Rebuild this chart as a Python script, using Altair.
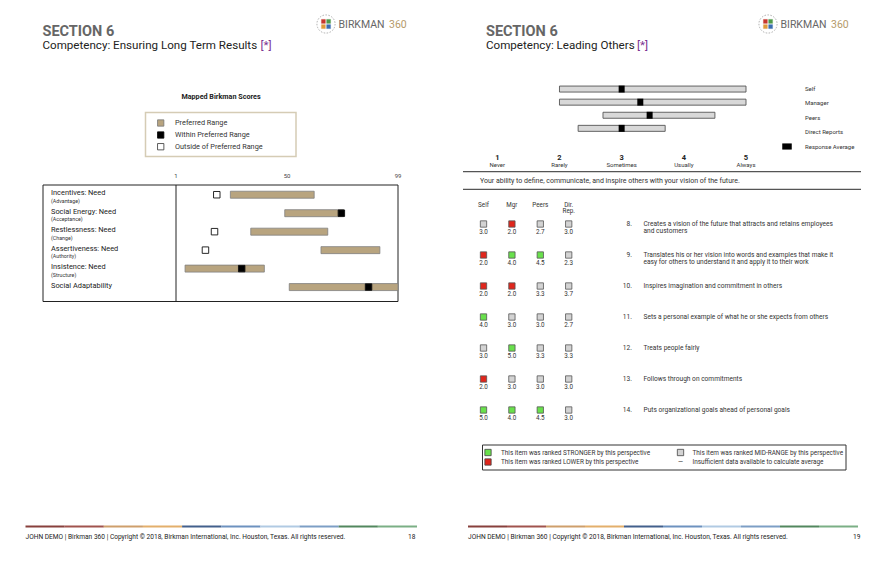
import altair as alt
import pandas as pd

FONT = "Roboto"

# ---------------- data: left page (Mapped Birkman Scores) ----------------
birk_cats = ["Incentives: Need", "Social Energy: Need", "Restlessness: Need",
             "Assertiveness: Need", "Insistence: Need", "Social Adaptability"]
birk_sub = ["(Advantage)", "(Acceptance)", "(Change)", "(Authority)", "(Structure)", ""]
birk_lo = [25, 49, 34, 65, 5, 51]
birk_hi = [62, 75, 68, 91, 40, 99]
birk_score = [19, 74, 18, 14, 30, 86]
birk_ticks = [1, 50, 99]
birk_legend = ["Preferred Range", "Within Preferred Range", "Outside of Preferred Range"]

# ---------------- data: right page (Leading Others) ----------------
persp = ["Self", "Manager", "Peers", "Direct Reports"]
persp_lo = [2.0, 2.0, 2.7, 2.3]
persp_hi = [5.0, 5.0, 4.5, 3.7]
persp_avg = [3.0, 3.3, 3.45, 3.0]
scale_nums = [1, 2, 3, 4, 5]
scale_words = ["Never", "Rarely", "Sometimes", "Usually", "Always"]

cols = ["Self", "Mgr", "Peers", "Dir. Rep."]
col_head1 = ["Self", "Mgr", "Peers", "Dir."]
col_head2 = ["", "", "", "Rep."]
items = [8, 9, 10, 11, 12, 13, 14]
item_line1 = ["Creates a vision of the future that attracts and retains employees",
              "Translates his or her vision into words and examples that make it",
              "Inspires imagination and commitment in others",
              "Sets a personal example of what he or she expects from others",
              "Treats people fairly",
              "Follows through on commitments",
              "Puts organizational goals ahead of personal goals"]
item_line2 = ["and customers",
              "easy for others to understand it and apply it to their work",
              "", "", "", "", ""]
self_vals = [3.0, 2.0, 2.0, 4.0, 3.0, 2.0, 5.0]
mgr_vals = [2.0, 4.0, 2.0, 3.0, 5.0, 3.0, 4.0]
peer_vals = [2.7, 4.5, 3.3, 3.0, 3.3, 3.0, 4.5]
dir_vals = [3.0, 2.3, 3.7, 2.7, 3.3, 3.0, 3.0]
self_rank = ["M", "L", "L", "S", "M", "L", "S"]
mgr_rank = ["L", "S", "L", "M", "S", "M", "S"]
peer_rank = ["M", "S", "M", "M", "M", "M", "S"]
dir_rank = ["M", "M", "M", "M", "M", "M", "M"]

footer = "JOHN DEMO | Birkman 360 | Copyright \u00a9 2018, Birkman International, Inc. Houston, Texas. All rights reserved."
strip_colors = ["#7b2b27", "#96403a", "#c9955c", "#e0a65c", "#2f4f80", "#5d86b8",
                "#a9c4e0", "#6f93bf", "#3f7a4c", "#6da678"]

# ---------------- styles ----------------
TAN = "#b8a47f"
GREEN = "#69e04c"
RED = "#e0261c"
GRAY = "#d3d3d3"

def px(v):
    return v - 8

def one(s):
    return pd.DataFrame({"t": [s]})

def txt(s, x, y, size=7.0, color="#222222", weight="normal", align="left",
        baseline="middle", **kw):
    return alt.Chart(one(s)).mark_text(
        fontSize=size, color=color, fontWeight=weight, align=align,
        baseline=baseline, font=FONT, **kw
    ).encode(text="t:N", x=alt.value(px(x)), y=alt.value(px(y)))

def box(x1, x2, y1, y2, fill="transparent", stroke="#000000", sw=1.0, **kw):
    return alt.Chart(one("")).mark_rect(fill=fill, stroke=stroke, strokeWidth=sw, **kw).encode(
        x=alt.value(px(x1)), x2=alt.value(px(x2)), y=alt.value(px(y1)), y2=alt.value(px(y2)))

def hline(x1, x2, y, color="#444444", sw=1.0):
    return alt.Chart(one("")).mark_rule(color=color, strokeWidth=sw).encode(
        x=alt.value(px(x1)), x2=alt.value(px(x2)), y=alt.value(px(y)))

def vline(x, y1, y2, color="#000000", sw=1.0):
    return alt.Chart(one("")).mark_rule(color=color, strokeWidth=sw).encode(
        x=alt.value(px(x)), y=alt.value(px(y1)), y2=alt.value(px(y2)))

def sq(x, y, fill, stroke="#444444", size=40, sw=0.8):
    return alt.Chart(one("")).mark_square(fill=fill, stroke=stroke, strokeWidth=sw,
                                          size=size, opacity=1).encode(
        x=alt.value(px(x)), y=alt.value(px(y)))

def header(x0, title, star_x, logo_x):
    out = [
        txt("SECTION 6", x0, 35.5, size=14.5, color="#666666", weight="bold", baseline="alphabetic"),
        txt(title, x0, 49, size=11.6, color="#222222", baseline="alphabetic"),
        txt("[*]", star_x, 49, size=11.6, color="#7b3391", baseline="alphabetic"),
        # logo
        alt.Chart(one("")).mark_point(shape="circle", size=330, stroke="#8a8a8a",
                                      strokeWidth=1, strokeDash=[1.5, 1.5], filled=False).encode(
            x=alt.value(px(logo_x)), y=alt.value(px(24))),
        sq(logo_x - 2.6, 21.4, "#c8372d", stroke="#c8372d", size=16, sw=0.3),
        sq(logo_x + 2.6, 21.4, "#4f9a4a", stroke="#4f9a4a", size=16, sw=0.3),
        sq(logo_x - 2.6, 26.6, "#e09a3c", stroke="#e09a3c", size=16, sw=0.3),
        sq(logo_x + 2.6, 26.6, "#3b6db0", stroke="#3b6db0", size=16, sw=0.3),
        txt("BIRKMAN", logo_x + 12.5, 25, size=10.5, color="#666666"),
        txt("360", logo_x + 63, 25, size=10.5, color="#b59a6a"),
    ]
    return out

def footer_layers(x1, x2, page, page_x):
    sdf = pd.DataFrame({"i": list(range(len(strip_colors))), "c": strip_colors})
    sdf["j"] = sdf["i"] + 1
    sx = alt.Scale(domain=[0, len(strip_colors)], range=[px(x1), px(x2)], nice=False, zero=False)
    strip = alt.Chart(sdf).mark_rect(opacity=0.9).encode(
        x=alt.X("i:Q", scale=sx, axis=None), x2="j:Q",
        y=alt.value(px(525.5)), y2=alt.value(px(527.5)),
        fill=alt.Fill("c:N", scale=None))
    return [strip,
            txt(footer, x1, 537, size=6.6, color="#222222"),
            txt(page, page_x, 537, size=6.6, color="#222222")]

layers = []

# ================= LEFT PAGE =================
layers += header(42.5, "Competency: Ensuring Long Term Results", 260.5, 326)
layers.append(txt("Mapped Birkman Scores", 221, 97, size=7.2, weight="bold", align="center"))
layers.append(box(145.5, 296, 112.5, 156.5, stroke="#d5ccb5", sw=1.5))
leg_y = [123, 135, 146.7]
layers.append(sq(160.7, leg_y[0], TAN, stroke="#777777"))
layers.append(sq(160.7, leg_y[1], "#000000", stroke="#000000"))
layers.append(sq(160.7, leg_y[2], "#ffffff", stroke="#333333"))
for lab, yy in zip(birk_legend, leg_y):
    layers.append(txt(lab, 175, yy, size=7.3, color="#333333"))

layers.append(box(43, 398, 185, 301.5, stroke="#222222", sw=1))
layers.append(vline(176, 185, 301.5, color="#222222"))

bdf = pd.DataFrame({"cat": birk_cats, "sub": birk_sub, "lo": birk_lo,
                    "hi": birk_hi, "score": birk_score})
bdf["status"] = ["Within" if lo <= s <= hi else "Outside"
                 for lo, hi, s in zip(birk_lo, birk_hi, birk_score)]
bx = alt.Scale(domain=[1, 99], range=[px(176), px(398)], nice=False, zero=False)
by = alt.Scale(domain=birk_cats, range=[px(185.5), px(296.3)], paddingInner=0, paddingOuter=0)
bbase = alt.Chart(bdf)
birk_bars = bbase.mark_bar(height=7, fill=TAN, stroke="#808080", strokeWidth=0.8).encode(
    x=alt.X("lo:Q", scale=bx, axis=None), x2="hi:Q",
    y=alt.Y("cat:N", scale=by, axis=None))
birk_marks = bbase.mark_square(size=42, stroke="#111111", strokeWidth=0.9, opacity=1).encode(
    x=alt.X("score:Q", scale=bx, axis=None),
    y=alt.Y("cat:N", scale=by, axis=None),
    fill=alt.Fill("status:N", scale=alt.Scale(domain=["Within", "Outside"],
                                               range=["#000000", "#ffffff"]), legend=None))
birk_lab = bbase.mark_text(align="left", fontSize=7.4, color="#222222", font=FONT, dy=-1.5).encode(
    x=alt.value(px(51)), y=alt.Y("cat:N", scale=by, axis=None), text="cat:N")
birk_sublab = bbase.mark_text(align="left", fontSize=5.3, color="#333333", font=FONT, dy=6).encode(
    x=alt.value(px(51)), y=alt.Y("cat:N", scale=by, axis=None), text="sub:N")
birk_tick = alt.Chart(pd.DataFrame({"v": birk_ticks})).mark_text(
    fontSize=6, color="#444444", font=FONT, y=px(176)).encode(
    x=alt.X("v:Q", scale=bx, axis=None), text="v:Q")
layers.append(alt.layer(birk_bars, birk_marks, birk_lab, birk_sublab, birk_tick))

layers += footer_layers(25.5, 417, "18", 408)

# ================= RIGHT PAGE =================
layers += header(486, "Competency: Leading Others", 637, 768)

pdf = pd.DataFrame({"p": persp, "lo": persp_lo, "hi": persp_hi, "avg": persp_avg})
rx = alt.Scale(domain=[1, 5], range=[px(497.3), px(746)], nice=False, zero=False)
ry = alt.Scale(domain=persp, range=[px(82.5), px(134.9)], paddingInner=0, paddingOuter=0)
pbase = alt.Chart(pdf)
p_bars = pbase.mark_bar(height=6, fill="#d8d8d8", stroke="#555555", strokeWidth=0.9).encode(
    x=alt.X("lo:Q", scale=rx, axis=None), x2="hi:Q", y=alt.Y("p:N", scale=ry, axis=None))
p_marks = pbase.mark_rect(height=7, width=6, fill="#000000").encode(
    x=alt.X("avg:Q", scale=rx, axis=None), y=alt.Y("p:N", scale=ry, axis=None))
sdf = pd.DataFrame({"n": scale_nums, "w": scale_words})
s_nums = alt.Chart(sdf).mark_text(fontSize=7.5, fontWeight="bold", color="#222222",
                                  font=FONT, y=px(157.5)).encode(
    x=alt.X("n:Q", scale=rx, axis=None), text="n:Q")
s_words = alt.Chart(sdf).mark_text(fontSize=6, color="#333333", font=FONT, y=px(164.5)).encode(
    x=alt.X("n:Q", scale=rx, axis=None), text="w:N")
layers.append(alt.layer(p_bars, p_marks, s_nums, s_words))

lab5 = persp + ["Response Average"]
ly = alt.Scale(domain=lab5, range=[px(81.8), px(153.8)], paddingInner=0, paddingOuter=0)
layers.append(alt.Chart(pd.DataFrame({"l": lab5})).mark_text(
    align="left", fontSize=6, color="#333333", font=FONT).encode(
    x=alt.value(px(805)), y=alt.Y("l:N", scale=ly, axis=None), text="l:N"))
layers.append(box(782.5, 791.5, 143.7, 149.3, fill="#000000", stroke="#000000", sw=0.5))

layers.append(hline(463, 861, 171.7, color="#555555", sw=1.2))
layers.append(txt("Your ability to define, communicate, and inspire others with your vision of the future.",
                  480, 180.5, size=7, color="#333333"))
layers.append(hline(463, 861, 189.3, color="#555555", sw=1.2))

# table
recs = []
for vals, ranks, c in [(self_vals, self_rank, cols[0]), (mgr_vals, mgr_rank, cols[1]),
                       (peer_vals, peer_rank, cols[2]), (dir_vals, dir_rank, cols[3])]:
    for it, v, r in zip(items, vals, ranks):
        recs.append({"item": it, "col": c, "val": v, "rank": r})
tdf = pd.DataFrame(recs)
tx = alt.Scale(type="point", domain=cols, range=[px(483.5), px(568.7)], padding=0)
ty = alt.Scale(type="point", domain=items, range=[px(224), px(410)], padding=0)
tbase = alt.Chart(tdf)
t_sq = tbase.mark_square(size=40, stroke="#555555", strokeWidth=0.8, opacity=1).encode(
    x=alt.X("col:N", scale=tx, axis=None), y=alt.Y("item:O", scale=ty, axis=None),
    fill=alt.Fill("rank:N", scale=alt.Scale(domain=["S", "L", "M"], range=[GREEN, RED, GRAY]),
                  legend=None))
t_val = tbase.mark_text(fontSize=6.3, color="#333333", font=FONT, dy=7.5).encode(
    x=alt.X("col:N", scale=tx, axis=None), y=alt.Y("item:O", scale=ty, axis=None),
    text=alt.Text("val:Q", format=".1f"))
hdf = pd.DataFrame({"col": cols, "h1": col_head1, "h2": col_head2})
t_h1 = alt.Chart(hdf).mark_text(fontSize=6.3, color="#333333", font=FONT, y=px(204.5)).encode(
    x=alt.X("col:N", scale=tx, axis=None), text="h1:N")
t_h2 = alt.Chart(hdf).mark_text(fontSize=6.3, color="#333333", font=FONT, y=px(210.8)).encode(
    x=alt.X("col:N", scale=tx, axis=None), text="h2:N")
idf = pd.DataFrame({"item": items, "l1": item_line1, "l2": item_line2,
                    "num": [f"{i}." for i in items]})
ibase = alt.Chart(idf)
t_num = ibase.mark_text(align="right", fontSize=6.6, color="#333333", font=FONT).encode(
    x=alt.value(px(632)), y=alt.Y("item:O", scale=ty, axis=None), text="num:N")
t_l1 = ibase.mark_text(align="left", fontSize=6.6, color="#333333", font=FONT, dy=-0.5).encode(
    x=alt.value(px(643.5)), y=alt.Y("item:O", scale=ty, axis=None), text="l1:N")
t_l2 = ibase.mark_text(align="left", fontSize=6.6, color="#333333", font=FONT, dy=6.5).encode(
    x=alt.value(px(643.5)), y=alt.Y("item:O", scale=ty, axis=None), text="l2:N")
layers.append(alt.layer(t_sq, t_val, t_h1, t_h2, t_num, t_l1, t_l2))

# bottom legend
layers.append(box(482.5, 846, 445, 470, stroke="#333333", sw=1))
layers.append(sq(488, 452.5, GREEN))
layers.append(sq(488, 462, RED))
layers.append(sq(680.5, 452.5, GRAY))
layers.append(txt("\u2014", 680.5, 462, size=6.5, color="#333333", align="center"))
layers.append(txt("This item was ranked STRONGER by this perspective", 501, 452.5, size=6.4, color="#333333"))
layers.append(txt("This item was ranked LOWER by this perspective", 501, 462, size=6.4, color="#333333"))
layers.append(txt("This item was ranked MID-RANGE by this perspective", 692.5, 452.5, size=6.4, color="#333333"))
layers.append(txt("Insufficient data available to calculate average", 692.5, 462, size=6.4, color="#333333"))

layers += footer_layers(468, 858, "19", 853)

chart = alt.layer(*layers).resolve_scale(
    x="independent", y="independent", fill="independent"
).properties(
    width=864, height=549, padding=0,
    autosize=alt.AutoSizeParams(type="none"),
    background="#ffffff",
).configure_view(strokeWidth=0)

chart.save("out.html", embed_options={"renderer": "svg", "actions": False})
